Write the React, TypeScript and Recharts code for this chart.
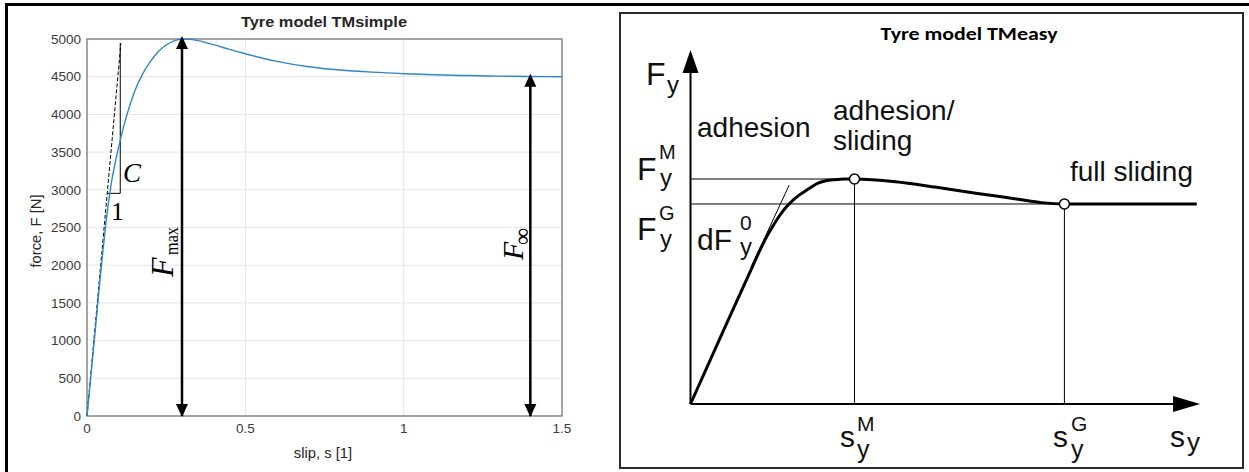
import React from "react";
import {
  CartesianGrid,
  Line,
  LineChart,
  ReferenceArea,
  ReferenceDot,
  ReferenceLine,
  XAxis,
  YAxis,
} from "recharts";

// TMsimple curve
const simpleSlip = [
  0, 0.01, 0.02, 0.03, 0.04, 0.05, 0.06, 0.075, 0.1, 0.125, 0.15, 0.175, 0.2,
  0.225, 0.25, 0.275, 0.3, 0.325, 0.35, 0.4, 0.45, 0.5, 0.6, 0.7, 0.8, 0.9, 1.0,
  1.1, 1.2, 1.3, 1.4, 1.5,
];
const simpleForce = [
  0, 430, 870, 1310, 1760, 2180, 2570, 3040, 3570, 3980, 4300, 4530, 4700,
  4830, 4920, 4975, 5000, 4996, 4978, 4925, 4862, 4805, 4703, 4632, 4588, 4560,
  4540, 4525, 4515, 4508, 4503, 4500,
];
const slipTicks = [0, 0.5, 1, 1.5];
const forceTicks = [0, 500, 1000, 1500, 2000, 2500, 3000, 3500, 4000, 4500, 5000];

const fMax = 5000;
const fInf = 4500;
const sAtMax = 0.3;
const sInfArrow = 1.4;
const tangentC = [
  { x: 0, y: 0 },
  { x: 0.107, y: 4946 },
];
const slopeRun = [
  { x: 0.063, y: 2953 },
  { x: 0.105, y: 2953 },
];
const slopeRise = [
  { x: 0.105, y: 2953 },
  { x: 0.105, y: 4946 },
];

// TMeasy sketch (arbitrary units, s_M = 1, F_M = 1)
const easySlip = [
  0, 0.2, 0.373, 0.42, 0.465, 0.5, 0.546, 0.58, 0.627, 0.66, 0.709, 0.74, 0.77,
  0.82, 0.88, 0.94, 1.0, 1.25, 1.5, 1.75, 2.0, 2.14, 2.28, 2.7, 3.087,
];
const easyForce = [
  0, 0.325, 0.603, 0.678, 0.744, 0.788, 0.84, 0.872, 0.907, 0.927, 0.951, 0.966,
  0.979, 0.991, 0.997, 1.0, 1.0, 0.988, 0.963, 0.936, 0.91, 0.895, 0.889, 0.889,
  0.889,
];
const sM = 1.0;
const fM = 1.0;
const sG = 2.28;
const fG = 0.889;
const easyTangent = [
  { x: 0.37, y: 0.61 },
  { x: 0.602, y: 0.973 },
];
const xAxisTip = 3.107;
const yAxisTip = 1.573;

const simpleData = simpleSlip.map((s, i) => ({ s, F: simpleForce[i] }));
const easyData = easySlip.map((s, i) => ({ s, F: easyForce[i] }));

const SANS = "'Liberation Sans', Arial, Helvetica, sans-serif";
const SERIF = "'Liberation Serif', 'Times New Roman', serif";

function HeadUp(props: any) {
  const { cx, cy } = props;
  return (
    <polygon
      points={`${cx},${cy - 3} ${cx - 6},${cy + 10} ${cx + 6},${cy + 10}`}
      fill="#000"
    />
  );
}

function HeadDown(props: any) {
  const { cx, cy } = props;
  return (
    <polygon
      points={`${cx},${cy + 1} ${cx - 6},${cy - 12} ${cx + 6},${cy - 12}`}
      fill="#000"
    />
  );
}

function AxisTipUp(props: any) {
  const { cx, cy } = props;
  return (
    <polygon
      points={`${cx},${cy} ${cx - 8},${cy + 23} ${cx + 8},${cy + 23}`}
      fill="#000"
    />
  );
}

function AxisTipRight(props: any) {
  const { cx, cy } = props;
  return (
    <polygon
      points={`${cx},${cy} ${cx - 27},${cy - 8} ${cx - 27},${cy + 8}`}
      fill="#000"
    />
  );
}

function OpenDot(props: any) {
  const { cx, cy } = props;
  return <circle cx={cx} cy={cy} r={5} fill="#fff" stroke="#000" strokeWidth={1.5} />;
}

function SimpleChart() {
  return (
    <LineChart
      width={620}
      height={472}
      data={simpleData}
      margin={{ top: 39, right: 58, bottom: 26, left: 47 }}
    >
      <CartesianGrid stroke="#e4e4e4" strokeWidth={1} />
      <XAxis
        dataKey="s"
        type="number"
        domain={[0, 1.5]}
        ticks={slipTicks}
        axisLine={false}
        tickLine={false}
        tickSize={5}
        tickMargin={2}
        height={30}
        tick={{ fill: "#3a3a3a", fontSize: 13.5, fontFamily: SANS }}
      />
      <YAxis
        type="number"
        domain={[0, 5000]}
        ticks={forceTicks}
        axisLine={false}
        tickLine={false}
        tickSize={4}
        tickMargin={2}
        width={40}
        interval={0}
        tick={{ fill: "#3a3a3a", fontSize: 13.5, fontFamily: SANS }}
      />
      <ReferenceArea
        x1={0}
        x2={1.5}
        y1={0}
        y2={5000}
        fill="none"
        fillOpacity={0}
        stroke="#8a8a8a"
        strokeWidth={1.5}
        ifOverflow="visible"
      />
      <ReferenceLine
        segment={tangentC}
        stroke="#000"
        strokeWidth={1}
        strokeDasharray="4 2"
        ifOverflow="visible"
      />
      <ReferenceLine segment={slopeRun} stroke="#000" strokeWidth={1} ifOverflow="visible" />
      <ReferenceLine segment={slopeRise} stroke="#000" strokeWidth={1} ifOverflow="visible" />
      <Line
        dataKey="F"
        type="monotone"
        stroke="#2f86c8"
        strokeWidth={1.4}
        dot={false}
        isAnimationActive={false}
      />
      <ReferenceLine
        segment={[
          { x: sAtMax, y: 0 },
          { x: sAtMax, y: fMax },
        ]}
        stroke="#000"
        strokeWidth={2.5}
        ifOverflow="visible"
      />
      <ReferenceLine
        segment={[
          { x: sInfArrow, y: 0 },
          { x: sInfArrow, y: fInf },
        ]}
        stroke="#000"
        strokeWidth={2.5}
        ifOverflow="visible"
      />
      <ReferenceDot x={sAtMax} y={fMax} ifOverflow="visible" shape={HeadUp} />
      <ReferenceDot x={sAtMax} y={0} ifOverflow="visible" shape={HeadDown} />
      <ReferenceDot x={sInfArrow} y={fInf} ifOverflow="visible" shape={HeadUp} />
      <ReferenceDot x={sInfArrow} y={0} ifOverflow="visible" shape={HeadDown} />
    </LineChart>
  );
}

function EasyChart() {
  return (
    <LineChart
      width={624}
      height={455}
      data={easyData}
      margin={{ top: 31, right: 27.7, bottom: 64, left: 71.5 }}
    >
      <XAxis dataKey="s" type="number" domain={[0, 3.2]} hide />
      <YAxis type="number" domain={[0, 1.6]} hide />
      <ReferenceLine
        segment={[
          { x: 0, y: fM },
          { x: sM, y: fM },
        ]}
        stroke="#000"
        strokeWidth={1}
        ifOverflow="visible"
      />
      <ReferenceLine
        segment={[
          { x: 0, y: fG },
          { x: sG, y: fG },
        ]}
        stroke="#000"
        strokeWidth={1}
        ifOverflow="visible"
      />
      <ReferenceLine
        segment={[
          { x: sM, y: 0 },
          { x: sM, y: fM },
        ]}
        stroke="#000"
        strokeWidth={1}
        ifOverflow="visible"
      />
      <ReferenceLine
        segment={[
          { x: sG, y: 0 },
          { x: sG, y: fG },
        ]}
        stroke="#000"
        strokeWidth={1}
        ifOverflow="visible"
      />
      <ReferenceLine segment={easyTangent} stroke="#000" strokeWidth={1} ifOverflow="visible" />
      <ReferenceLine
        segment={[
          { x: 0, y: 0 },
          { x: xAxisTip - 0.12, y: 0 },
        ]}
        stroke="#000"
        strokeWidth={2}
        ifOverflow="visible"
      />
      <ReferenceLine
        segment={[
          { x: 0, y: 0 },
          { x: 0, y: yAxisTip - 0.08 },
        ]}
        stroke="#000"
        strokeWidth={2}
        ifOverflow="visible"
      />
      <Line
        dataKey="F"
        type="monotone"
        stroke="#000"
        strokeWidth={3}
        dot={false}
        isAnimationActive={false}
      />
      <ReferenceDot x={sM} y={fM} ifOverflow="visible" shape={OpenDot} />
      <ReferenceDot x={sG} y={fG} ifOverflow="visible" shape={OpenDot} />
      <ReferenceDot x={xAxisTip} y={0} ifOverflow="visible" shape={AxisTipRight} />
      <ReferenceDot x={0} y={yAxisTip} ifOverflow="visible" shape={AxisTipUp} />
    </LineChart>
  );
}

export default function App() {
  return (
    <div
      style={{
        position: "absolute",
        left: 0,
        top: 0,
        width: 1249,
        height: 472,
        background: "#fff",
        overflow: "hidden",
      }}
    >
      {/* frames */}
      <div style={{ position: "absolute", left: 5, top: 3, width: 1244, height: 3, background: "#000" }} />
      <div style={{ position: "absolute", left: 5, top: 3, width: 3, height: 469, background: "#000" }} />
      <div
        style={{
          position: "absolute",
          left: 619,
          top: 12,
          width: 621,
          height: 453,
          border: "2px solid #2a2a2a",
        }}
      />

      <div style={{ position: "absolute", left: 0, top: 0 }}>
        <SimpleChart />
      </div>
      <div style={{ position: "absolute", left: 619, top: 13 }}>
        <EasyChart />
      </div>

      {/* annotations */}
      <svg
        width={1249}
        height={472}
        style={{ position: "absolute", left: 0, top: 0, pointerEvents: "none" }}
      >
        <g fontFamily={SANS} fill="#262626">
          <text x={324} y={27} fontSize={15} fontWeight="bold" textAnchor="middle" textLength={166} lengthAdjust="spacingAndGlyphs">
            Tyre model TMsimple
          </text>
          <text x={323} y={458} fontSize={14.8} textAnchor="middle">
            slip, s [1]
          </text>
          <text transform="translate(41,231) rotate(-90)" fontSize={14.8} textAnchor="middle">
            force, F [N]
          </text>
        </g>
        <g fontFamily={SERIF} fill="#000">
          <g transform="translate(173,277) rotate(-90)">
            <text x={0} y={0} fontSize={32} fontStyle="italic">F</text>
            <text x={22} y={5} fontSize={19} textLength={28} lengthAdjust="spacingAndGlyphs">max</text>
          </g>
          <g transform="translate(523,260) rotate(-90)">
            <text x={0} y={0} fontSize={30} fontStyle="italic">F</text>
            <text x={15} y={7} fontSize={24}>∞</text>
          </g>
          <text x={123} y={182} fontSize={27} fontStyle="italic">C</text>
          <text x={111} y={220} fontSize={26}>1</text>
        </g>

        <text
          x={969}
          y={40}
          fontFamily="Carlito, Calibri, Lato, sans-serif"
          fontWeight="bold"
          fontSize={17}
          textAnchor="middle"
          textLength={177}
          lengthAdjust="spacingAndGlyphs"
          fill="#000"
        >
          Tyre model TMeasy
        </text>
        <g fontFamily={SANS} fill="#111">
          <text x={646} y={85} fontSize={32}>F</text>
          <text x={667} y={93} fontSize={24}>y</text>

          <text x={637} y={180} fontSize={32}>F</text>
          <text x={659} y={159} fontSize={20}>M</text>
          <text x={660} y={186} fontSize={24}>y</text>

          <text x={637} y={240} fontSize={32}>F</text>
          <text x={659} y={220} fontSize={20}>G</text>
          <text x={660} y={247} fontSize={24}>y</text>

          <text x={697} y={250} fontSize={30}>dF</text>
          <text x={740} y={230} fontSize={21}>0</text>
          <text x={740} y={255} fontSize={24}>y</text>

          <text x={697} y={137} fontSize={28}>adhesion</text>
          <text x={833} y={120} fontSize={28}>adhesion/</text>
          <text x={833} y={150} fontSize={28}>sliding</text>
          <text x={1070} y={181} fontSize={28}>full sliding</text>

          <text x={840} y={447} fontSize={30}>s</text>
          <text x={857} y={431} fontSize={21}>M</text>
          <text x={857} y={458} fontSize={25}>y</text>

          <text x={1053} y={447} fontSize={30}>s</text>
          <text x={1071} y={431} fontSize={21}>G</text>
          <text x={1071} y={458} fontSize={25}>y</text>

          <text x={1170} y={447} fontSize={30}>s</text>
          <text x={1187} y={451} fontSize={26}>y</text>
        </g>
      </svg>
    </div>
  );
}
